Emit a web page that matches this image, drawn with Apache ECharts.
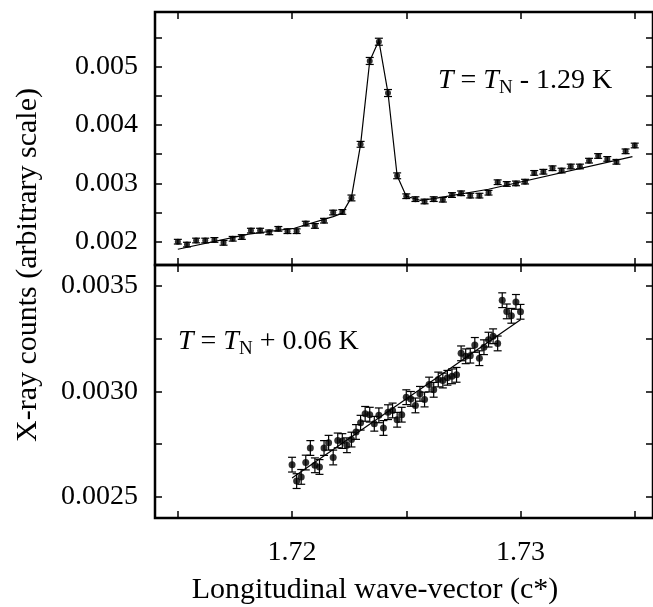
<!DOCTYPE html>
<html>
<head>
<meta charset="utf-8">
<script src="https://cdn.jsdelivr.net/npm/echarts@6/dist/echarts.min.js"></script>
<style>
  html, body { margin: 0; padding: 0; background: #fff; }
  #chart { width: 653px; height: 607px; }
</style>
</head>
<body>
<div id="chart"></div>
<script>
// top panel: T = TN - 1.29 K
const topX = [1.715, 1.7154, 1.7158, 1.7162, 1.7166, 1.717, 1.7174, 1.7178, 1.7182, 1.7186,
  1.719, 1.7194, 1.7198, 1.7202, 1.7206, 1.721, 1.7214, 1.7218, 1.7222, 1.7226,
  1.723, 1.7234, 1.7238, 1.7242, 1.7246, 1.725, 1.7254, 1.7258, 1.7262, 1.7266,
  1.727, 1.7274, 1.7278, 1.7282, 1.7286, 1.729, 1.7294, 1.7298, 1.7302, 1.7306,
  1.731, 1.7314, 1.7318, 1.7322, 1.7326, 1.733, 1.7334, 1.7338, 1.7342, 1.7346, 1.735]
const topY = [0.00200, 0.00195, 0.00202, 0.00202, 0.00203, 0.00198, 0.00205, 0.00208, 0.00219, 0.00219,
  0.00216, 0.00222, 0.00218, 0.00218, 0.00231, 0.00227, 0.00236, 0.00250, 0.00251, 0.00275,
  0.00367, 0.00510, 0.00543, 0.00455, 0.00313, 0.00278, 0.00273, 0.00269, 0.00273, 0.00272,
  0.00280, 0.00283, 0.00279, 0.00279, 0.00284, 0.00302, 0.00299, 0.00300, 0.00303, 0.00318,
  0.00320, 0.00326, 0.00322, 0.00329, 0.00329, 0.00339, 0.00347, 0.00342, 0.00337, 0.00355, 0.00365]
const topErr = [0.00004, 0.00004, 0.00004, 0.00004, 0.00004, 0.00004, 0.00004, 0.00004, 0.00004, 0.00004,
  0.00004, 0.00004, 0.00004, 0.00004, 0.00004, 0.00004, 0.00004, 0.00004, 0.00004, 0.00005,
  0.00005, 0.00006, 0.00006, 0.00006, 0.00005, 0.00004, 0.00004, 0.00004, 0.00004, 0.00004,
  0.00004, 0.00004, 0.00004, 0.00004, 0.00004, 0.00004, 0.00004, 0.00004, 0.00004, 0.00004,
  0.00004, 0.00004, 0.00004, 0.00004, 0.00004, 0.00004, 0.00004, 0.00004, 0.00004, 0.00004, 0.00004]
const topFitX = [1.715, 1.7181, 1.7201, 1.7218, 1.7222, 1.7226, 1.723, 1.7234, 1.7238, 1.7242,
  1.7246, 1.725, 1.7256, 1.7262, 1.7286, 1.7349]
const topFitY = [0.00187, 0.00213, 0.00223, 0.00243, 0.00249, 0.00276, 0.00367, 0.00510, 0.00545, 0.00455,
  0.00313, 0.00278, 0.00271, 0.00274, 0.00290, 0.00346]

// bottom panel: T = TN + 0.06 K
const botX = [1.72, 1.7202, 1.7204, 1.7206, 1.7208, 1.721, 1.7212, 1.7214, 1.7216, 1.7218,
  1.722, 1.7222, 1.7224, 1.7226, 1.7228, 1.723, 1.7232, 1.7234, 1.7236, 1.7238,
  1.724, 1.7242, 1.7244, 1.7246, 1.7248, 1.725, 1.7252, 1.7254, 1.7256, 1.7258,
  1.726, 1.7262, 1.7264, 1.7266, 1.7268, 1.727, 1.7272, 1.7274, 1.7276, 1.7278,
  1.728, 1.7282, 1.7284, 1.7286, 1.7288, 1.729, 1.7292, 1.7294, 1.7296, 1.7298, 1.73]
const botY = [0.002653, 0.002575, 0.002595, 0.002663, 0.002732, 0.002650, 0.002642, 0.002732, 0.002757, 0.002687,
  0.002768, 0.002765, 0.002745, 0.002772, 0.002808, 0.002852, 0.002894, 0.002890, 0.002847, 0.002887,
  0.002827, 0.002902, 0.002910, 0.002866, 0.002890, 0.002973, 0.002965, 0.002934, 0.002989, 0.002962,
  0.003033, 0.003008, 0.003057, 0.003052, 0.003065, 0.003072, 0.003079, 0.003181, 0.003167, 0.003170,
  0.003221, 0.003158, 0.003210, 0.003246, 0.003262, 0.003228, 0.003433, 0.003380, 0.003359, 0.003425, 0.003378]
const botErr = 0.000035
const botFitX = [1.72, 1.73]
const botFitY = [0.00259, 0.00334]

// axes
const xTicks = [1.715, 1.72, 1.725, 1.73, 1.735]
const xLabels = [1.72, 1.73]
const topTicks = [0.002, 0.0025, 0.003, 0.0035, 0.004, 0.0045, 0.005, 0.0055]
const topLabels = [0.002, 0.003, 0.004, 0.005]
const botTicks = [0.0025, 0.00275, 0.003, 0.00325, 0.0035]
const botLabels = [0.0025, 0.003, 0.0035]

const FONT = '"Liberation Serif", "DejaVu Serif", serif'
const chart = echarts.init(document.getElementById('chart'))

const pairs = (xs, ys) => xs.map((x, i) => [x, ys[i]])

const errorBars = (xs, ys, errs, idx) => ({
    type: 'custom',
    xAxisIndex: idx * 2,
    yAxisIndex: idx * 2,
    z: 3,
    encode: { x: 0, y: [1, 2] },
    data: xs.map((x, i) => {
        const e = Array.isArray(errs) ? errs[i] : errs
        return [x, ys[i] - e, ys[i] + e]
    }),
    renderItem: (params, api) => {
        const lo = api.coord([api.value(0), api.value(1)])
        const hi = api.coord([api.value(0), api.value(2)])
        const w = 4
        const style = { stroke: '#000', lineWidth: 1.2 }
        return {
            type: 'group',
            children: [
                { type: 'line', shape: { x1: lo[0], y1: lo[1], x2: hi[0], y2: hi[1] }, style },
                { type: 'line', shape: { x1: lo[0] - w, y1: lo[1], x2: lo[0] + w, y2: lo[1] }, style },
                { type: 'line', shape: { x1: hi[0] - w, y1: hi[1], x2: hi[0] + w, y2: hi[1] }, style }
            ]
        }
    }
})

const tickStyle = { color: '#000', width: 1.5 }

const xAxis = (grid, pos, withLabels) => ({
    type: 'value',
    gridIndex: grid,
    position: pos,
    min: 1.714,
    max: 1.7358,
    axisLine: { show: false },
    splitLine: { show: false },
    axisTick: { show: true, inside: true, length: 7, lineStyle: tickStyle, customValues: xTicks },
    axisLabel: withLabels
        ? { show: true, customValues: xLabels, color: '#000', fontFamily: FONT, fontSize: 28, margin: 21 }
        : { show: false }
})

const yAxis = (grid, pos, min, max, ticks, labels, digits) => ({
    type: 'value',
    gridIndex: grid,
    position: pos,
    min: min,
    max: max,
    axisLine: { show: false },
    splitLine: { show: false },
    axisTick: { show: true, inside: true, length: 7, lineStyle: tickStyle, customValues: ticks },
    axisLabel: labels
        ? { show: true, customValues: labels, color: '#000', fontFamily: FONT, fontSize: 28, margin: 17,
            formatter: v => v.toFixed(digits) }
        : { show: false }
})

const gridBox = { show: true, borderColor: '#000', borderWidth: 2.5, left: 155, width: 500, height: 253, containLabel: false }

chart.setOption({
    animation: false,
    backgroundColor: '#fff',
    grid: [
        Object.assign({}, gridBox, { top: 12 }),
        Object.assign({}, gridBox, { top: 265 })
    ],
    xAxis: [
        xAxis(0, 'bottom', false),
        xAxis(0, 'top', false),
        xAxis(1, 'bottom', true),
        xAxis(1, 'top', false)
    ],
    yAxis: [
        yAxis(0, 'left', 0.0016, 0.00594, topTicks, topLabels, 3),
        yAxis(0, 'right', 0.0016, 0.00594, topTicks, null, 3),
        yAxis(1, 'left', 0.0024, 0.0036, botTicks, botLabels, 4),
        yAxis(1, 'right', 0.0024, 0.0036, botTicks, null, 4)
    ],
    graphic: [
        {
            type: 'text',
            x: 28, y: 265,
            rotation: Math.PI / 2,
            style: {
                text: 'X-ray counts (arbitrary scale)',
                font: '30px ' + FONT,
                fill: '#000',
                align: 'center',
                verticalAlign: 'middle'
            }
        },
        {
            type: 'text',
            x: 375, y: 590,
            style: {
                text: 'Longitudinal wave-vector (c*)',
                font: '30px ' + FONT,
                fill: '#000',
                align: 'center',
                verticalAlign: 'middle'
            }
        },
        {
            type: 'text',
            left: 438, top: 64,
            style: {
                text: '{i|T} = {i|T}{s|N} - 1.29 K',
                font: '28px ' + FONT,
                fill: '#000',
                lineHeight: 34,
                rich: {
                    i: { fontStyle: 'italic', fontSize: 28, fontFamily: FONT, lineHeight: 34 },
                    s: { fontSize: 19, fontFamily: FONT, lineHeight: 14, verticalAlign: 'bottom' }
                }
            }
        },
        {
            type: 'text',
            left: 178, top: 325,
            style: {
                text: '{i|T} = {i|T}{s|N} + 0.06 K',
                font: '28px ' + FONT,
                fill: '#000',
                lineHeight: 34,
                rich: {
                    i: { fontStyle: 'italic', fontSize: 28, fontFamily: FONT, lineHeight: 34 },
                    s: { fontSize: 19, fontFamily: FONT, lineHeight: 14, verticalAlign: 'bottom' }
                }
            }
        }
    ],
    series: [
        {
            type: 'line', xAxisIndex: 0, yAxisIndex: 0,
            data: pairs(topFitX, topFitY),
            showSymbol: false, lineStyle: { color: '#000', width: 1.2 }, z: 2
        },
        errorBars(topX, topY, topErr, 0),
        {
            type: 'scatter', xAxisIndex: 0, yAxisIndex: 0,
            data: pairs(topX, topY),
            symbolSize: 6, itemStyle: { color: '#000' }, z: 4
        },
        {
            type: 'line', xAxisIndex: 2, yAxisIndex: 2,
            data: pairs(botFitX, botFitY),
            showSymbol: false, lineStyle: { color: '#000', width: 1.2 }, z: 2
        },
        errorBars(botX, botY, botErr, 1),
        {
            type: 'scatter', xAxisIndex: 2, yAxisIndex: 2,
            data: pairs(botX, botY),
            symbolSize: 7, itemStyle: { color: '#000' }, z: 4
        }
    ]
})
</script>
</body>
</html>
